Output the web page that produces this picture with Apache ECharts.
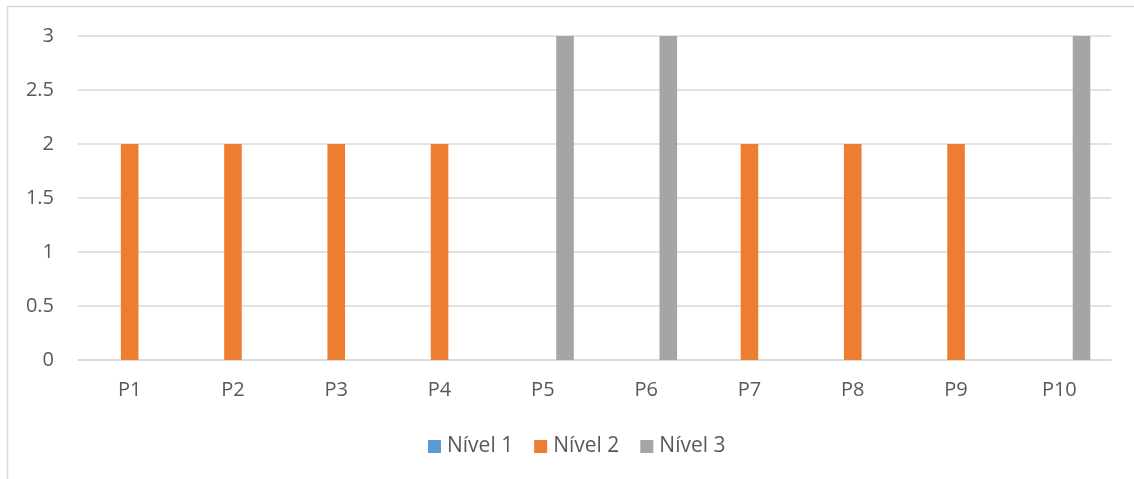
<!DOCTYPE html>
<html>
<head>
<meta charset="utf-8">
<style>
  html, body { margin: 0; padding: 0; background: #ffffff; }
  #chart { width: 1134px; height: 479px; }
</style>
<script src="https://cdn.jsdelivr.net/npm/echarts@6/dist/echarts.min.js"></script>
</head>
<body>
<div id="chart"></div>
<script>
// Categories and series values
const categories = ['P1', 'P2', 'P3', 'P4', 'P5', 'P6', 'P7', 'P8', 'P9', 'P10'];
const nivel1 = [0, 0, 0, 0, 0, 0, 0, 0, 0, 0];
const nivel2 = [2, 2, 2, 2, 0, 0, 2, 2, 2, 0];
const nivel3 = [0, 0, 0, 0, 3, 3, 0, 0, 0, 3];
const seriesNames = ['Nível 1', 'Nível 2', 'Nível 3'];
const seriesColors = ['#5b9bd5', '#ed7d31', '#a5a5a5'];

const FONT = '"Open Sans", Lato, sans-serif';
const TEXT = '#595959';

const chart = echarts.init(document.getElementById('chart'), null, { renderer: 'canvas' });

const barSeries = [nivel1, nivel2, nivel3].map((vals, i) => ({
  name: seriesNames[i],
  type: 'bar',
  data: vals,
  barWidth: 17.6,
  barGap: '26%',
  itemStyle: { color: seriesColors[i] },
  emphasis: { disabled: true }
}));

chart.setOption({
  animation: false,
  textStyle: { fontFamily: FONT },
  graphic: [{
    type: 'rect',
    shape: { x: 7.5, y: 6.5, width: 1140, height: 490 },
    style: { fill: 'none', stroke: '#d9d9d9', lineWidth: 1.5 },
    silent: true
  }],
  grid: { left: 78, right: 23, top: 36, bottom: 119 },
  legend: {
    data: seriesNames,
    bottom: 17,
    left: 423,
    icon: 'rect',
    itemWidth: 13,
    itemHeight: 13,
    itemGap: 21,
    textStyle: { color: TEXT, fontSize: 21, fontFamily: FONT, padding: [0, 0, 0, 1] }
  },
  xAxis: {
    type: 'category',
    data: categories,
    axisLine: { show: true, lineStyle: { color: '#d9d9d9', width: 1.5 } },
    axisTick: { show: false },
    axisLabel: { color: TEXT, fontSize: 20, margin: 20, fontFamily: FONT }
  },
  yAxis: {
    type: 'value',
    min: 0,
    max: 3,
    interval: 0.5,
    axisLine: { show: false },
    axisTick: { show: false },
    splitLine: { lineStyle: { color: '#d9d9d9', width: 1.5 } },
    axisLabel: { color: TEXT, fontSize: 20, margin: 24, fontFamily: FONT }
  },
  series: barSeries
});
</script>
</body>
</html>
